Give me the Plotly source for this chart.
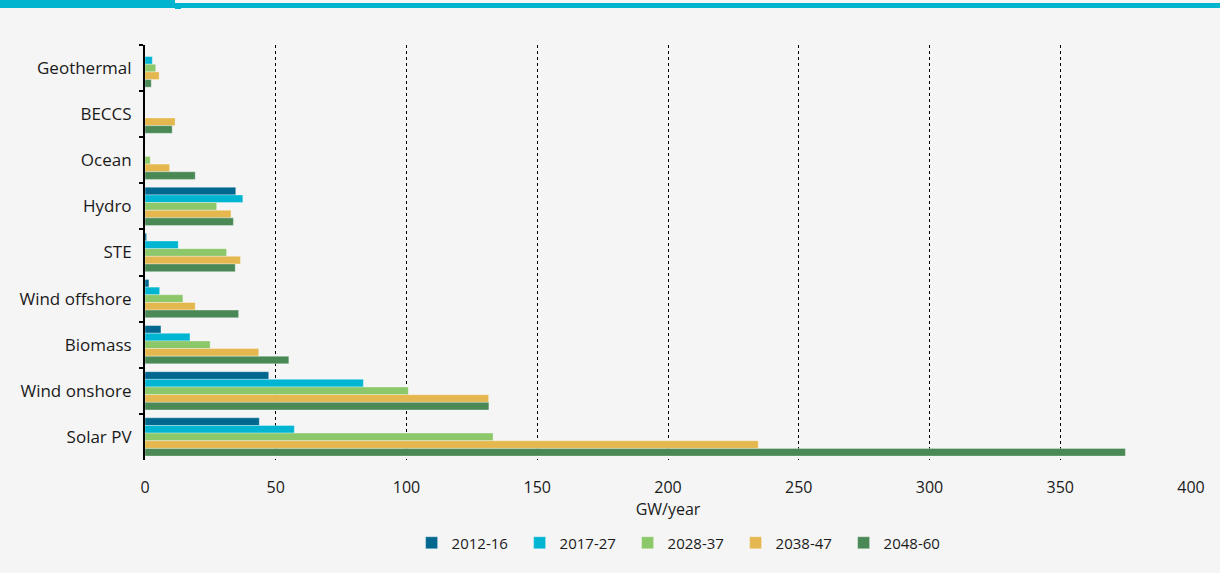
import plotly.graph_objects as go

categories = ["Geothermal", "BECCS", "Ocean", "Hydro", "STE",
              "Wind offshore", "Biomass", "Wind onshore", "Solar PV"]
periods = ["2012-16", "2017-27", "2028-37", "2038-47", "2048-60"]

v_2012_16 = [0, 0, 0, 34.7, 0.6, 1.5, 6.1, 47.3, 43.7]
v_2017_27 = [2.8, 0, 0, 37.4, 12.7, 5.6, 17.2, 83.5, 57.1]
v_2028_37 = [4.1, 0, 2.0, 27.4, 31.2, 14.5, 24.9, 100.7, 133.1]
v_2038_47 = [5.4, 11.5, 9.4, 32.9, 36.5, 19.2, 43.5, 131.4, 234.5]
v_2048_60 = [2.4, 10.4, 19.2, 33.8, 34.5, 35.8, 55.0, 131.5, 374.9]
series = [v_2012_16, v_2017_27, v_2028_37, v_2038_47, v_2048_60]

colors = ["#00688f", "#00b5d1", "#8cc76a", "#e5b74f", "#4a8956"]

x_ticks = [0, 50, 100, 150, 200, 250, 300, 350, 400]

FONT = "'Open Sans', sans-serif"

fig = go.Figure()
for name, vals, col in zip(periods, series, colors):
    fig.add_trace(go.Bar(
        y=categories, x=vals, name=name, orientation="h",
        marker=dict(color=col, line=dict(color="rgba(255,255,255,0.55)", width=0.6)),
    ))

L, T, R, B = 145, 45, 29, 113
fig.update_layout(
    width=1220, height=573,
    barmode="group", bargap=0.17, bargroupgap=0,
    paper_bgcolor="#f5f5f5", plot_bgcolor="#f5f5f5",
    margin=dict(l=L, r=R, t=T, b=B, pad=0),
    font=dict(family=FONT, size=17, color="#1a1a1a"),
    showlegend=True,
    legend=dict(orientation="h", x=0.513, xanchor="center", y=-0.2, yanchor="middle",
                font=dict(size=15), itemwidth=30, traceorder="normal",
                entrywidth=63, entrywidthmode="pixels",
                bgcolor="rgba(0,0,0,0)"),
    xaxis=dict(range=[0, 400], tickvals=x_ticks, showgrid=True, gridcolor="#000000",
               griddash="dot", gridwidth=1, zeroline=False, showline=False,
               ticks="", tickfont=dict(size=16), ticklabelstandoff=16,
               title=dict(text="GW/year", font=dict(size=16), standoff=6)),
    yaxis=dict(autorange="reversed", showline=True, linecolor="#000000", linewidth=2,
               ticks="outside", tickson="boundaries", ticklen=4, tickwidth=2,
               tickcolor="#000000", showgrid=False, tickfont=dict(size=17),
               ticklabelstandoff=8),
    shapes=[
        dict(type="rect", xref="paper", yref="paper", xsizemode="pixel", ysizemode="pixel",
             xanchor=0, yanchor=1, x0=-L, x1=-L + 175, y0=T, y1=T - 8,
             fillcolor="#00b4d0", line=dict(width=0)),
        dict(type="rect", xref="paper", yref="paper", xsizemode="pixel", ysizemode="pixel",
             xanchor=0, yanchor=1, x0=-L + 175, x1=-L + 1220, y0=T - 3, y1=T - 8,
             fillcolor="#00b4d0", line=dict(width=0)),
        dict(type="rect", xref="paper", yref="paper", xsizemode="pixel", ysizemode="pixel",
             xanchor=0, yanchor=1, x0=-L + 175, x1=-L + 181, y0=T - 8, y1=T - 9,
             fillcolor="#00b4d0", line=dict(width=0)),
    ],
)

fig.write_html(
    "out.html",
    config={"displayModeBar": False},
    post_script="document.body.style.margin='0';document.body.style.background='#f5f5f5';",
)
